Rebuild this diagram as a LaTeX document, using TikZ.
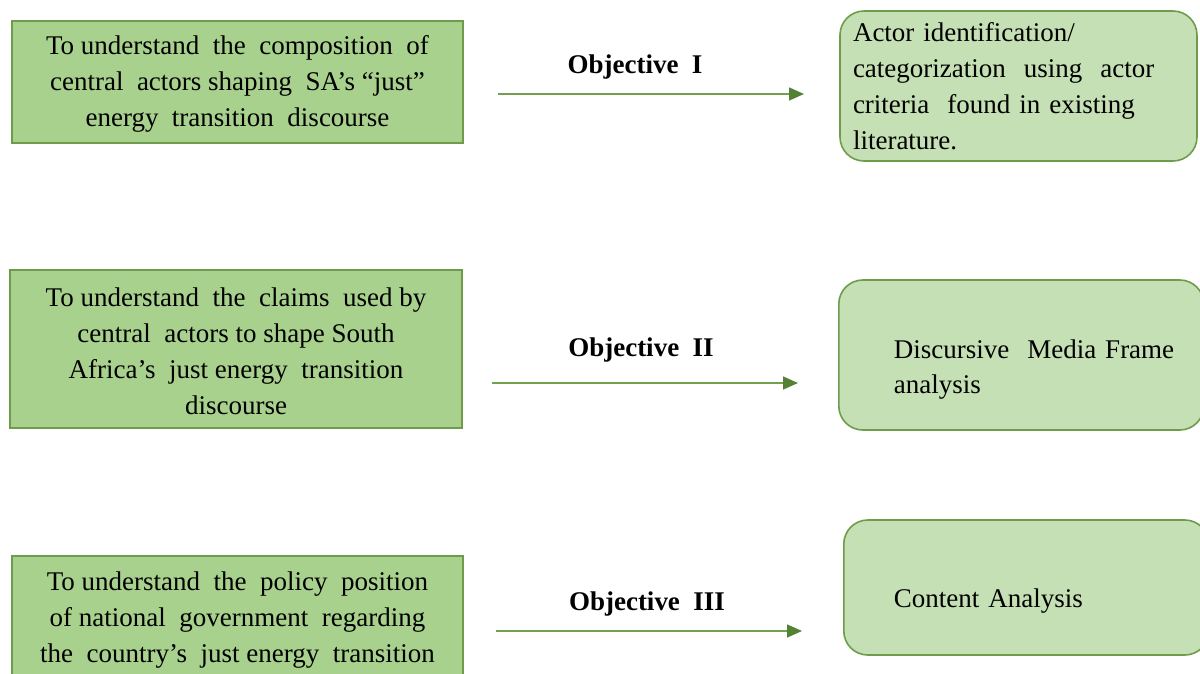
\documentclass[tikz,border=0pt]{standalone}
\usepackage{fontspec}
\setmainfont{Liberation Serif}
\usetikzlibrary{arrows.meta}
\definecolor{lfill}{HTML}{A9D18E}
\definecolor{rfill}{HTML}{C5E0B4}
\definecolor{bline}{HTML}{6E9C4C}
\definecolor{aline}{HTML}{70A050}
\definecolor{ahead}{HTML}{548235}
\tikzset{
  leftbox/.style={draw=bline, line width=1.6pt, fill=lfill, rectangle,
    align=center, inner sep=0pt, font=\fontsize{27}{36}\selectfont},
  rightbox/.style={draw=bline, line width=1.6pt, fill=rfill, rectangle,
    rounded corners=24pt, align=left, inner ysep=0pt,
    font=\fontsize{27}{35}\selectfont},
  objlabel/.style={font=\fontsize{27}{32}\selectfont\bfseries, inner sep=0pt},
  arr/.style={draw=aline, line width=1.6pt,
    -{Triangle[length=15pt,width=13pt,color=ahead]}},
}
\begin{document}
\begin{tikzpicture}[x=1pt,y=-1pt]
\useasboundingbox (0,0) rectangle (1200,673);
% left boxes
\node[leftbox, minimum width=451pt, minimum height=122pt] (l1) at (237.5,82)
  {\rule{0pt}{23pt}To understand \ the \ composition \ of\\central \ actors shaping \ SA’s “just”\\energy \ transition \ discourse};
\node[leftbox, minimum width=452pt, minimum height=158pt] (l2) at (236,349)
  {\rule{0pt}{23pt}To understand \ the \ claims \ used by\\central \ actors to shape South\\Africa’s \ just energy \ transition\\discourse};
\node[leftbox, minimum width=451pt, minimum height=159pt, anchor=north] (l3) at (237.5,555)
  {To understand \ the \ policy \ position\\of national \ government \ regarding\\the \ country’s \ just energy \ transition\\\mbox{}};
% right boxes
\node[rightbox, minimum width=357pt, minimum height=150pt, text width=331pt,
  inner xsep=13pt, font=\fontsize{27}{36}\selectfont] (r1) at (1018.5,86)
  {Actor identification/\\categorization \ using \ actor\\criteria \ found in existing\\literature.};
\node[rightbox, minimum width=365pt, minimum height=150pt, text width=365pt,
  inner xsep=0pt, anchor=west] (r2) at (838,355)
  {\hspace*{55pt}\rule{0pt}{47pt}Discursive \ Media Frame\\\hspace*{55pt}analysis};
\node[rightbox, minimum width=365pt, minimum height=135pt, text width=365pt,
  inner xsep=0pt, anchor=west] (r3) at (843,587.5)
  {\hspace*{50pt}\rule{0pt}{46pt}Content Analysis};
% arrows
\coordinate (a1s) at (498,94);
\coordinate (a1e) at (804,94);
\coordinate (a2s) at (492,383);
\coordinate (a2e) at (798,383);
\coordinate (a3s) at (496,631);
\coordinate (a3e) at (802,631);
\draw[arr] (a1s) -- (a1e);
\draw[arr] (a2s) -- (a2e);
\draw[arr] (a3s) -- (a3e);
% labels
\node[objlabel] (o1) at (635,67) {Objective \ I};
\node[objlabel] (o2) at (641,350) {Objective \ II};
\node[objlabel] (o3) at (647,604) {Objective \ III};
\end{tikzpicture}
\end{document}
